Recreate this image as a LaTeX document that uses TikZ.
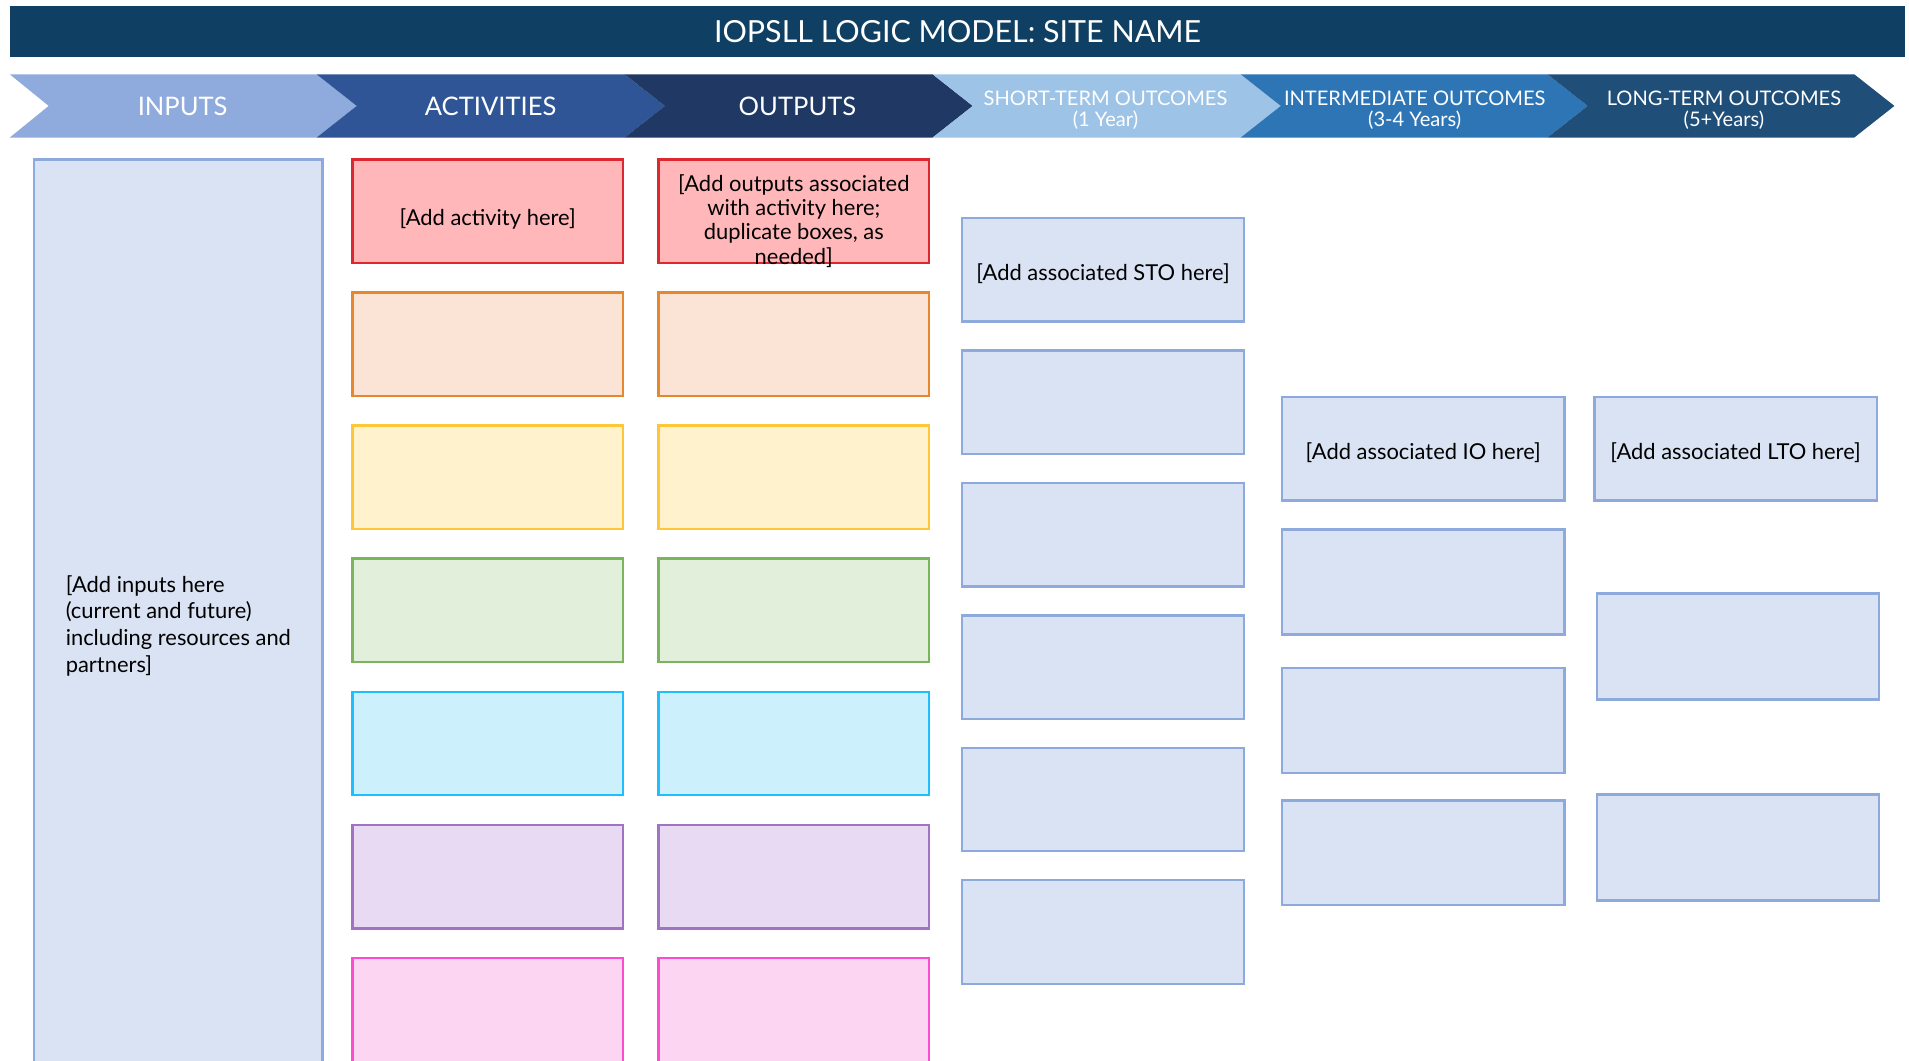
\documentclass[tikz,border=0pt]{standalone}
\usepackage{fontspec}
\setmainfont{Lato}
\usetikzlibrary{positioning}
\definecolor{titlebg}{RGB}{15,63,98}
\definecolor{chin}{RGB}{143,170,220}
\definecolor{chact}{RGB}{47,85,151}
\definecolor{chout}{RGB}{32,56,100}
\definecolor{chsto}{RGB}{157,195,230}
\definecolor{chio}{RGB}{46,117,182}
\definecolor{chlto}{RGB}{31,78,121}
\definecolor{boxblue}{RGB}{142,169,219}
\definecolor{boxbg}{RGB}{218,227,243}
\definecolor{redline}{RGB}{222,40,48}
\definecolor{redbg}{RGB}{255,183,185}
\definecolor{orangeline}{RGB}{230,135,45}
\definecolor{orangebg}{RGB}{251,228,214}
\definecolor{yellowline}{RGB}{255,198,55}
\definecolor{yellowbg}{RGB}{255,242,204}
\definecolor{greenline}{RGB}{122,180,92}
\definecolor{greenbg}{RGB}{226,239,218}
\definecolor{cyanline}{RGB}{30,190,255}
\definecolor{cyanbg}{RGB}{204,241,252}
\definecolor{purpleline}{RGB}{160,115,195}
\definecolor{purplebg}{RGB}{231,218,242}
\definecolor{pinkline}{RGB}{255,75,205}
\definecolor{pinkbg}{RGB}{252,213,242}
\tikzstyle{titlebar} = [rectangle, fill=titlebg, text=white, minimum width=1557pt, minimum height=42pt, font=\fontsize{25}{28}\selectfont]
\tikzstyle{head} = [text=white, align=center, font=\fontsize{21}{24}\selectfont]
\tikzstyle{subhead} = [text=white, align=center, font=\fontsize{16.5}{18}\selectfont]
\tikzstyle{box} = [rectangle, line width=2pt, minimum width=222pt, minimum height=85pt, inner sep=3pt]
\tikzstyle{bluebox} = [box, draw=boxblue, fill=boxbg, minimum width=232pt]
\tikzstyle{inbox} = [box, draw=boxblue, fill=boxbg, minimum width=237pt, minimum height=766pt, text=black, align=left, font=\fontsize{18}{22}\selectfont]
\tikzstyle{boxtext} = [text=black, align=center, font=\fontsize{18}{20}\selectfont]

\begin{document}
\begin{tikzpicture}[x=1pt, y=-1pt]
\useasboundingbox (0,0) rectangle (1568,871);
\clip (0,0) rectangle (1568,871);

% title ===================================
\node[titlebar] (title) at (786.5,26) {IOPSLL LOGIC MODEL: SITE NAME};

% header chevrons =========================
\fill[chin] (8,61) -- (260,61) -- (293,87) -- (260,113) -- (8,113) -- (40,87) -- cycle;
\fill[chact] (260,61) -- (513,61) -- (546,87) -- (513,113) -- (260,113) -- (293,87) -- cycle;
\fill[chout] (513,61) -- (766,61) -- (799,87) -- (766,113) -- (513,113) -- (546,87) -- cycle;
\fill[chsto] (766,61) -- (1019,61) -- (1052,87) -- (1019,113) -- (766,113) -- (799,87) -- cycle;
\fill[chio] (1019,61) -- (1271,61) -- (1304,87) -- (1271,113) -- (1019,113) -- (1052,87) -- cycle;
\fill[chlto] (1271,61) -- (1523,61) -- (1556,87) -- (1523,113) -- (1271,113) -- (1304,87) -- cycle;
\node[head] (hdin) at (150,87) {INPUTS};
\node[head] (hdact) at (403,87) {ACTIVITIES};
\node[head] (hdout) at (655,87) {OUTPUTS};
\node[subhead] (hdsto) at (908,90.5) {SHORT-TERM OUTCOMES\\(1 Year)};
\node[subhead] (hdio) at (1162,90.5) {INTERMEDIATE OUTCOMES\\(3-4 Years)};
\node[subhead] (hdlto) at (1416,90.5) {LONG-TERM OUTCOMES\\(5+Years)};

% inputs ==================================
\node[inbox] (inputs) at (146.5,514) {[Add inputs here\\(current and future)\\including resources and\\partners]};

% activities ==============================
\node[box, draw=redline, fill=redbg] (act1) at (400.5,173.5) {};
\node[box, draw=orangeline, fill=orangebg, below=22.3pt of act1] (act2) {};
\node[box, draw=yellowline, fill=yellowbg, below=22.3pt of act2] (act3) {};
\node[box, draw=greenline, fill=greenbg, below=22.3pt of act3] (act4) {};
\node[box, draw=cyanline, fill=cyanbg, below=22.3pt of act4] (act5) {};
\node[box, draw=purpleline, fill=purplebg, below=22.3pt of act5] (act6) {};
\node[box, draw=pinkline, fill=pinkbg, minimum height=120pt, below=22.3pt of act6] (act7) {};
\node[boxtext] (acttxt) at ([yshift=-6pt]act1.center) {[Add activity here]};

% outputs =================================
\node[box, draw=redline, fill=redbg, right=27.5pt of act1] (out1) {};
\node[box, draw=orangeline, fill=orangebg, below=22.3pt of out1] (out2) {};
\node[box, draw=yellowline, fill=yellowbg, below=22.3pt of out2] (out3) {};
\node[box, draw=greenline, fill=greenbg, below=22.3pt of out3] (out4) {};
\node[box, draw=cyanline, fill=cyanbg, below=22.3pt of out4] (out5) {};
\node[box, draw=purpleline, fill=purplebg, below=22.3pt of out5] (out6) {};
\node[box, draw=pinkline, fill=pinkbg, minimum height=120pt, below=22.3pt of out6] (out7) {};
\node[boxtext] (outtxt) at ([yshift=-8pt]out1.center) {[Add outputs associated\\with activity here;\\duplicate boxes, as\\needed]};

% short-term outcomes =====================
\node[bluebox] (sto1) at (906,221.5) {};
\node[bluebox, below=21.8pt of sto1] (sto2) {};
\node[bluebox, below=21.8pt of sto2] (sto3) {};
\node[bluebox, below=21.8pt of sto3] (sto4) {};
\node[bluebox, below=21.8pt of sto4] (sto5) {};
\node[bluebox, below=21.8pt of sto5] (sto6) {};
\node[boxtext] (stotxt) at ([yshift=-3pt]sto1.center) {[Add associated STO here]};

% intermediate outcomes ===================
\node[bluebox] (io1) at (1169,368.5) {};
\node[bluebox, minimum height=86pt, below=22pt of io1] (io2) {};
\node[bluebox, minimum height=86pt] (io3) at (1169,591.7) {};
\node[bluebox, minimum height=86pt] (io4) at (1169,700.5) {};
\node[boxtext] (iotxt) at ([yshift=-3pt]io1.center) {[Add associated IO here]};

% long-term outcomes ======================
\node[bluebox] (lto1) at (1425.5,368.5) {};
\node[bluebox, minimum height=87pt] (lto2) at (1427.5,531) {};
\node[bluebox, minimum height=87pt] (lto3) at (1427.5,696) {};
\node[boxtext] (ltotxt) at ([yshift=-3pt]lto1.center) {[Add associated LTO here]};

\end{tikzpicture}
\end{document}
